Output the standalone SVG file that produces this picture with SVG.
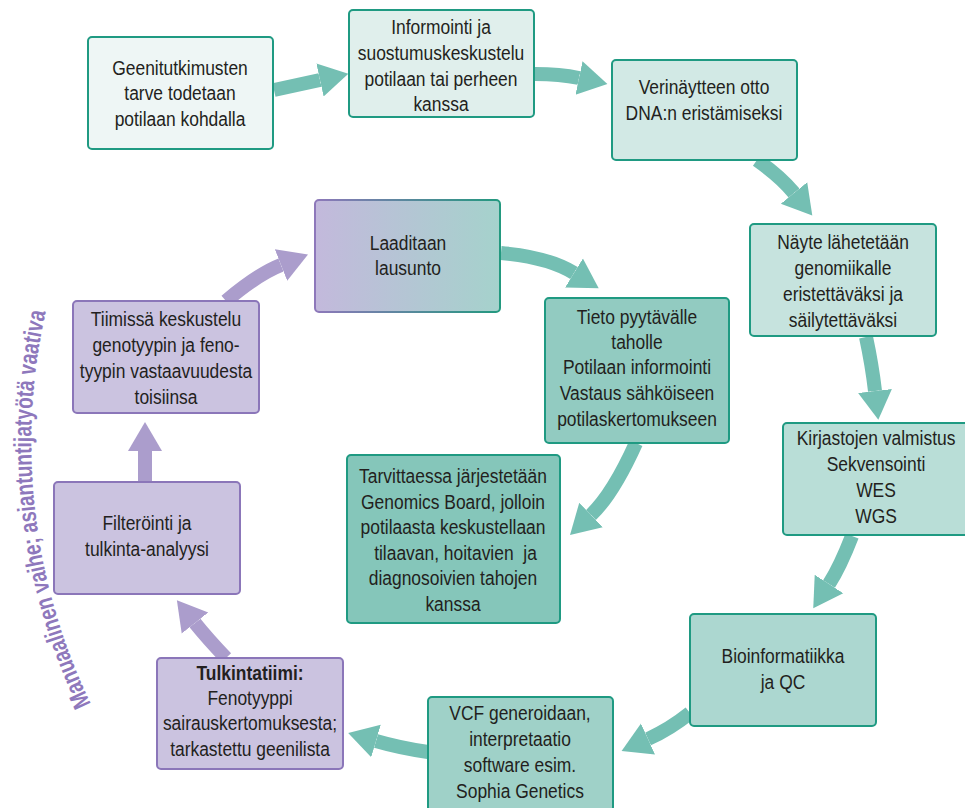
<svg xmlns="http://www.w3.org/2000/svg" width="965" height="808" viewBox="0 0 965 808">
<style>
text{font-family:"Liberation Sans",Arial,sans-serif;font-size:21px;fill:#231f20;text-anchor:middle}
.b{font-weight:bold}
.t{stroke:#1f9a82;stroke-width:2}
.p{stroke:#8b76b9;stroke-width:2}
.at{fill:none;stroke:#74bfb3;stroke-width:14;marker-end:url(#ht)}
.ap{fill:none;stroke:#ab9dcc;stroke-width:14;marker-end:url(#hp)}
.side{font-family:"Liberation Sans",Arial,sans-serif;font-size:25px;font-weight:bold;fill:#8e78bc;text-anchor:start}
</style>
<defs>
<marker id="ht" markerUnits="userSpaceOnUse" markerWidth="32" markerHeight="38" viewBox="0 -19 32 38" refX="0" refY="0" orient="auto"><path d="M0,-17 L29,0 L0,17 z" fill="#74bfb3"/></marker>
<marker id="hp" markerUnits="userSpaceOnUse" markerWidth="32" markerHeight="38" viewBox="0 -19 32 38" refX="0" refY="0" orient="auto"><path d="M0,-17 L29,0 L0,17 z" fill="#ab9dcc"/></marker>
<linearGradient id="gf" x1="0" y1="0" x2="1" y2="0"><stop offset="0" stop-color="#c3b9dc"/><stop offset="1" stop-color="#a5d2cc"/></linearGradient>
<linearGradient id="gs" x1="0" y1="0" x2="1" y2="0"><stop offset="0" stop-color="#8e78ba"/><stop offset="1" stop-color="#23997f"/></linearGradient>
<path id="arc" d="M91,704 A602,602 0 0 1 48,302"/>
</defs>

<g id="connectors">
<path class="at" d="M274,90 L320,80"/>
<path class="at" d="M535,74 Q560,74 579,78"/>
<path class="at" d="M757,160 Q781,177 794,193"/>
<path class="at" d="M866,337 Q872,365 875,391"/>
<path class="at" d="M852,536 Q840,567 829,584"/>
<path class="at" d="M690,713 Q670,729 648,739"/>
<path class="at" d="M428,752 Q400,748 376,741"/>
<path class="ap" d="M226,658 Q207,638 195,623"/>
<path class="ap" d="M145,482 L145,451"/>
<path class="ap" d="M226,301 Q258,274 281,265"/>
<path class="at" d="M501,253 Q548,257 574,273"/>
<path class="at" d="M636,443 Q613,494 591,515"/>
</g>

<g id="n1"><rect class="t" x="88" y="37" width="185" height="112" rx="4" fill="#eef6f5"/>
<g transform="translate(180 0) scale(0.83 1)"><text x="0" y="75">Geenitutkimusten</text><text x="0" y="100">tarve todetaan</text><text x="0" y="126">potilaan kohdalla</text></g></g>

<g id="n2"><rect class="t" x="349" y="10" width="185" height="107" rx="4" fill="#e0efec"/>
<g transform="translate(441 0) scale(0.83 1)"><text x="0" y="34">Informointi ja</text><text x="0" y="60">suostumuskeskustelu</text><text x="0" y="86">potilaan tai perheen</text><text x="0" y="111">kanssa</text></g></g>

<g id="n3"><rect class="t" x="612" y="60" width="185" height="100" rx="4" fill="#d2e9e5"/>
<g transform="translate(704 0) scale(0.83 1)"><text x="0" y="94">Verinäytteen otto</text><text x="0" y="120">DNA:n eristämiseksi</text></g></g>

<g id="n4"><rect class="t" x="750" y="224" width="186" height="112" rx="4" fill="#c6e3de"/>
<g transform="translate(843 0) scale(0.83 1)"><text x="0" y="249">Näyte lähetetään</text><text x="0" y="275">genomiikalle</text><text x="0" y="301">eristettäväksi ja</text><text x="0" y="327">säilytettäväksi</text></g></g>

<g id="n5"><rect class="t" x="783" y="423" width="186" height="112" rx="4" fill="#b9ded7"/>
<g transform="translate(876 0) scale(0.83 1)"><text x="0" y="445">Kirjastojen valmistus</text><text x="0" y="471">Sekvensointi</text><text x="0" y="497">WES</text><text x="0" y="523">WGS</text></g></g>

<g id="n6"><rect class="t" x="690" y="614" width="186" height="112" rx="4" fill="#acd7d0"/>
<g transform="translate(783 0) scale(0.83 1)"><text x="0" y="663">Bioinformatiikka</text><text x="0" y="689">ja QC</text></g></g>

<g id="n7"><rect class="t" x="428" y="697" width="185" height="114" rx="4" fill="#9fd1c8"/>
<g transform="translate(520 0) scale(0.83 1)"><text x="0" y="720">VCF generoidaan,</text><text x="0" y="746">interpretaatio</text><text x="0" y="772">software esim.</text><text x="0" y="798">Sophia Genetics</text></g></g>

<g id="n8"><rect class="p" x="157" y="658" width="186" height="111" rx="4" fill="#cbc3e0"/>
<g transform="translate(250 0) scale(0.83 1)"><text x="0" y="680" class="b">Tulkintatiimi:</text><text x="0" y="705">Fenotyyppi</text><text x="0" y="730">sairauskertomuksesta;</text><text x="0" y="756">tarkastettu geenilista</text></g></g>

<g id="n9"><rect class="p" x="54" y="482" width="186" height="112" rx="4" fill="#cbc3e0"/>
<g transform="translate(147 0) scale(0.83 1)"><text x="0" y="530">Filteröinti ja</text><text x="0" y="556">tulkinta-analyysi</text></g></g>

<g id="n10"><rect class="p" x="73" y="301" width="186" height="112" rx="4" fill="#cbc3e0"/>
<g transform="translate(166 0) scale(0.83 1)"><text x="0" y="326">Tiimissä keskustelu</text><text x="0" y="352">genotyypin ja feno-</text><text x="0" y="378">tyypin vastaavuudesta</text><text x="0" y="404">toisiinsa</text></g></g>

<g id="n11"><rect x="315" y="200" width="185" height="112" rx="4" fill="url(#gf)" stroke="url(#gs)" stroke-width="2"/>
<g transform="translate(408 0) scale(0.83 1)"><text x="0" y="250">Laaditaan</text><text x="0" y="275">lausunto</text></g></g>

<g id="n12"><rect class="t" x="545" y="298" width="184" height="145" rx="4" fill="#92cbc1"/>
<g transform="translate(637 0) scale(0.83 1)"><text x="0" y="324">Tieto pyytävälle</text><text x="0" y="349">taholle</text><text x="0" y="374">Potilaan informointi</text><text x="0" y="400">Vastaus sähköiseen</text><text x="0" y="426">potilaskertomukseen</text></g></g>

<g id="n13"><rect class="t" x="347" y="455" width="213" height="168" rx="4" fill="#85c6ba"/>
<g transform="translate(453 0) scale(0.83 1)"><text x="0" y="483">Tarvittaessa järjestetään</text><text x="0" y="509">Genomics Board, jolloin</text><text x="0" y="534">potilaasta keskustellaan</text><text x="3" y="560" xml:space="preserve">tilaavan, hoitavien  ja</text><text x="0" y="585">diagnosoivien tahojen</text><text x="0" y="611">kanssa</text></g></g>

<text class="side"><textPath href="#arc" textLength="402" lengthAdjust="spacingAndGlyphs">Manuaalinen vaihe; asiantuntijatyötä vaativa</textPath></text>
</svg>
